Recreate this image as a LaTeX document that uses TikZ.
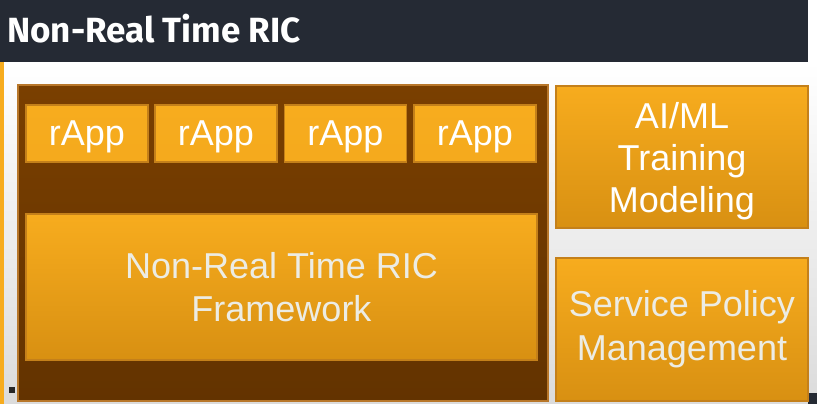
\documentclass[tikz,border=0pt]{standalone}
\usepackage{fontspec}
\setmainfont{Liberation Sans}
\newfontfamily\headfont{Fira Sans}
\definecolor{barcol}{HTML}{252A34}
\definecolor{orgtop}{HTML}{F7AC1E}
\definecolor{orgbot}{HTML}{D89012}
\definecolor{orgline}{HTML}{C4801A}
\definecolor{browntop}{HTML}{7A3F00}
\definecolor{brownbot}{HTML}{633300}
\definecolor{brownline}{HTML}{B8772A}
\definecolor{paletext}{HTML}{ECECE4}
\tikzset{
  orgbox/.style={draw=orgline, line width=1.5pt, top color=orgtop, bottom color=orgbot, align=center, text=white, font=\fontsize{36}{43}\selectfont, inner sep=0pt},
  appbox/.style={orgbox, top color=orgtop, bottom color=orgtop!92!orgbot, minimum width=122pt, minimum height=57pt, text depth=0pt},
  sidebox/.style={orgbox, minimum width=252pt, minimum height=142pt},
  outerbox/.style={draw=brownline, line width=1.5pt, top color=browntop, bottom color=brownbot, minimum width=530pt, minimum height=316pt, inner sep=0pt}
}
\begin{document}
\begin{tikzpicture}[x=1pt,y=-1pt]
\useasboundingbox (0,0) rectangle (817,404);
% background
\shade[top color=white, bottom color=black!14] (0,62) rectangle (817,404);
\fill[barcol] (0,0) rectangle (808,62);
\fill[orgtop] (0,62) rectangle (4,404);
\fill[black!85] (9,387) rectangle (15,393);
\fill[barcol] (808,393) rectangle (817,404);
\node[anchor=base west, text=white, inner sep=0pt, font=\headfont\bfseries\fontsize{35}{40}\selectfont] (title) at (7,42.5) {Non-Real Time RIC};
% outer brown
\node[outerbox] (outer) at (283,243) {};
% rApps
\node[appbox] (app1) at (87,133.5) {rApp};
\node[appbox] (app2) at (216,133.5) {rApp};
\node[appbox] (app3) at (345.5,133.5) {rApp};
\node[appbox] (app4) at (475,133.5) {rApp};
% framework
\node[orgbox, minimum width=511pt, minimum height=146pt, text=paletext] (fw) at (281.5,287) {Non-Real Time RIC\\Framework};
% side boxes
\node[sidebox, text depth=0pt, font=\fontsize{36}{42}\selectfont] (aiml) at (682,157) {AI/ML\\Training\\Modeling};
\node[sidebox, minimum height=143pt, text=paletext, font=\fontsize{36}{44}\selectfont] (spm) at (682,329.5) {Service Policy\\Management};
\end{tikzpicture}
\end{document}
